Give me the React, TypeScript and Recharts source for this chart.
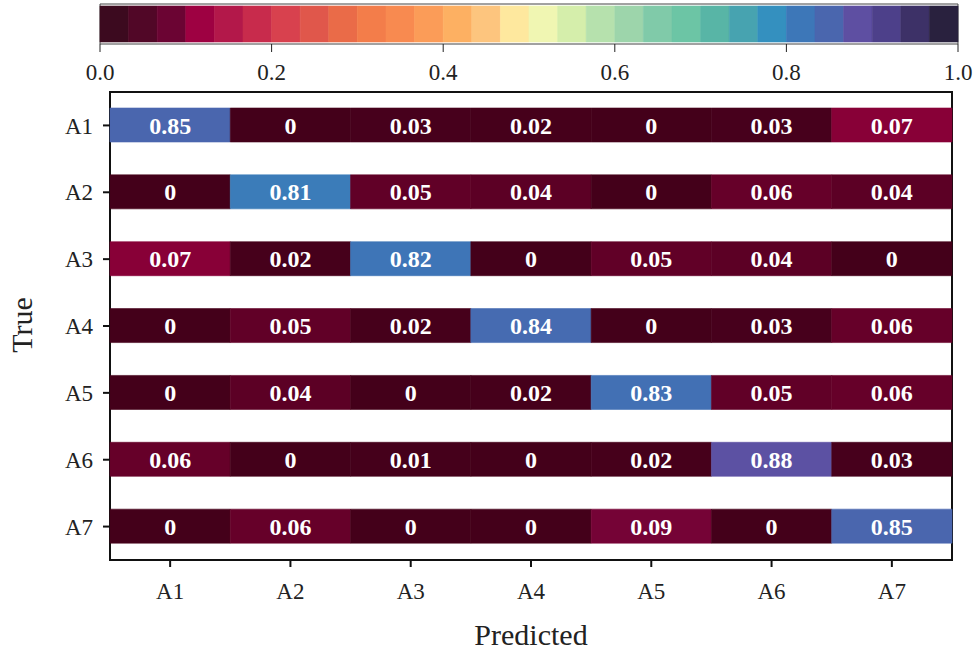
import { BarChart, Bar, XAxis, YAxis, Cell, LabelList, ReferenceArea } from "recharts";

const FONT = "'Liberation Serif', 'Times New Roman', serif";

const trueLabels = ["A1", "A2", "A3", "A4", "A5", "A6", "A7"];
const predLabels = ["A1", "A2", "A3", "A4", "A5", "A6", "A7"];

// rows = true class, columns = predicted class
const matrix = [
  [0.85, 0, 0.03, 0.02, 0, 0.03, 0.07],
  [0, 0.81, 0.05, 0.04, 0, 0.06, 0.04],
  [0.07, 0.02, 0.82, 0, 0.05, 0.04, 0],
  [0, 0.05, 0.02, 0.84, 0, 0.03, 0.06],
  [0, 0.04, 0, 0.02, 0.83, 0.05, 0.06],
  [0.06, 0, 0.01, 0, 0.02, 0.88, 0.03],
  [0, 0.06, 0, 0, 0.09, 0, 0.85],
];

const colorbarTicks = [0, 0.2, 0.4, 0.6, 0.8, 1.0];

// discrete colorbar bands, low -> high
const bandColors = [
  "#3c0a1f", "#510727", "#6b0433", "#9e0142", "#b3184a", "#c82b4c",
  "#d8414e", "#e0574b", "#ea6b48", "#f37d4a", "#f88a50", "#fb9c58",
  "#fdb062", "#fdc57e", "#fee89e", "#f0f6b2", "#d5eeab", "#b6e1ad",
  "#9dd5ab", "#80caa9", "#6cc5a5", "#58b5a6", "#47a3b0", "#3490bf",
  "#3d77b8", "#4a66ae", "#5e4fa2", "#4d408a", "#3d3167", "#29213e",
];

// the cells look a bit different at the low end than the bar
const lowStops: [number, string][] = [
  [0, "#44001a"],
  [0.03, "#47001c"],
  [0.04, "#5c0025"],
  [0.06, "#660029"],
  [0.07, "#880037"],
];

const hexToRgb = (h: string) => [
  parseInt(h.slice(1, 3), 16),
  parseInt(h.slice(3, 5), 16),
  parseInt(h.slice(5, 7), 16),
];

const mix = (a: string, b: string, t: number) => {
  const ca = hexToRgb(a);
  const cb = hexToRgb(b);
  const c = ca.map((v, i) => Math.round(v + (cb[i] - v) * t));
  return `rgb(${c[0]},${c[1]},${c[2]})`;
};

const cellColor = (v: number) => {
  const n = bandColors.length;
  const stops: [number, string][] = [
    ...lowStops,
    ...bandColors.map((c, k) => [(k + 0.5) / n, c] as [number, string]).filter(([p]) => p > 0.08),
  ];
  if (v <= stops[0][0]) return stops[0][1];
  for (let i = 1; i < stops.length; i++) {
    if (v <= stops[i][0]) {
      const [p0, c0] = stops[i - 1];
      const [p1, c1] = stops[i];
      return mix(c0, c1, (v - p0) / (p1 - p0));
    }
  }
  return stops[stops.length - 1][1];
};

const heatData = trueLabels.map((name, i) => {
  const row: Record<string, string | number> = { name };
  matrix[i].forEach((v, j) => {
    row[`w${j}`] = 1;
    row[`v${j}`] = v;
  });
  return row;
});

const colorbarData = [
  bandColors.reduce(
    (acc, _, k) => ({ ...acc, [`b${k}`]: 1 / bandColors.length }),
    { name: "cb" } as Record<string, string | number>
  ),
];

const tickStyle = { fontSize: 23, fill: "#222", fontFamily: FONT };

export default function App() {
  return (
    <div
      style={{
        position: "absolute",
        top: 0,
        left: 0,
        width: 977,
        height: 657,
        background: "#fff",
        fontFamily: FONT,
      }}
    >
      {/* colorbar */}
      <div style={{ position: "absolute", top: 0, left: 0 }}>
        <BarChart
          width={977}
          height={90}
          layout="vertical"
          data={colorbarData}
          margin={{ top: 4, right: 19, bottom: 6, left: 100 }}
          barCategoryGap={0}
        >
          <XAxis
            type="number"
            domain={[0, 1]}
            ticks={colorbarTicks}
            tickFormatter={(v: number) => v.toFixed(1)}
            height={40}
            axisLine={false}
            tickSize={8}
            tickMargin={12}
            tickLine={{ stroke: "#222" }}
            tick={tickStyle}
            fontSize={23}
            fontFamily={FONT}
            interval={0}
          />
          <YAxis type="category" dataKey="name" hide />
          {bandColors.map((c, k) => (
            <Bar
              key={k}
              dataKey={`b${k}`}
              stackId="cb"
              fill={c}
              stroke={c}
              strokeWidth={0.6}
              barSize={40}
              isAnimationActive={false}
            />
          ))}
          <ReferenceArea
            x1={0}
            x2={1}
            fill="none"
            fillOpacity={0}
            stroke="#444"
            strokeWidth={1}
            ifOverflow="visible"
          />
        </BarChart>
      </div>

      {/* confusion matrix */}
      <div style={{ position: "absolute", top: 0, left: 0 }}>
        <BarChart
          width={977}
          height={657}
          layout="vertical"
          data={heatData}
          margin={{ top: 92, right: 25, bottom: 57, left: 40 }}
        >
          <XAxis
            type="number"
            domain={[0, predLabels.length]}
            ticks={predLabels.map((_, j) => j + 0.5)}
            tickFormatter={(v: number) => predLabels[Math.floor(v)]}
            height={40}
            axisLine={false}
            tickSize={7}
            tickMargin={16}
            tickLine={{ stroke: "#111", strokeWidth: 2 }}
            tick={tickStyle}
            fontSize={23}
            fontFamily={FONT}
            interval={0}
          />
          <YAxis
            type="category"
            dataKey="name"
            width={70}
            axisLine={false}
            tickSize={7}
            tickMargin={10}
            tickLine={{ stroke: "#111", strokeWidth: 2 }}
            tick={tickStyle}
            fontSize={23}
            fontFamily={FONT}
            interval={0}
          />
          {predLabels.map((_, j) => (
            <Bar
              key={j}
              dataKey={`w${j}`}
              stackId="m"
              barSize={34}
              isAnimationActive={false}
            >
              {trueLabels.map((_, i) => (
                <Cell
                  key={i}
                  fill={cellColor(matrix[i][j])}
                  stroke={cellColor(matrix[i][j])}
                  strokeWidth={0.6}
                />
              ))}
              <LabelList
                dataKey={`v${j}`}
                position="center"
                fill="#fff"
                fontSize={24}
                fontWeight="bold"
                fontFamily={FONT}
              />
            </Bar>
          ))}
          <ReferenceArea
            x1={0}
            x2={predLabels.length}
            fill="none"
            fillOpacity={0}
            stroke="#111"
            strokeWidth={2}
            ifOverflow="visible"
          />
        </BarChart>
      </div>

      {/* axis titles */}
      <div
        style={{
          position: "absolute",
          left: 22,
          top: 325,
          transform: "translate(-50%, -50%) rotate(-90deg)",
          fontSize: 30,
          color: "#222",
          whiteSpace: "nowrap",
        }}
      >
        True
      </div>
      <div
        style={{
          position: "absolute",
          left: 531,
          top: 635,
          transform: "translate(-50%, -50%)",
          fontSize: 30,
          color: "#222",
          whiteSpace: "nowrap",
        }}
      >
        Predicted
      </div>
    </div>
  );
}
